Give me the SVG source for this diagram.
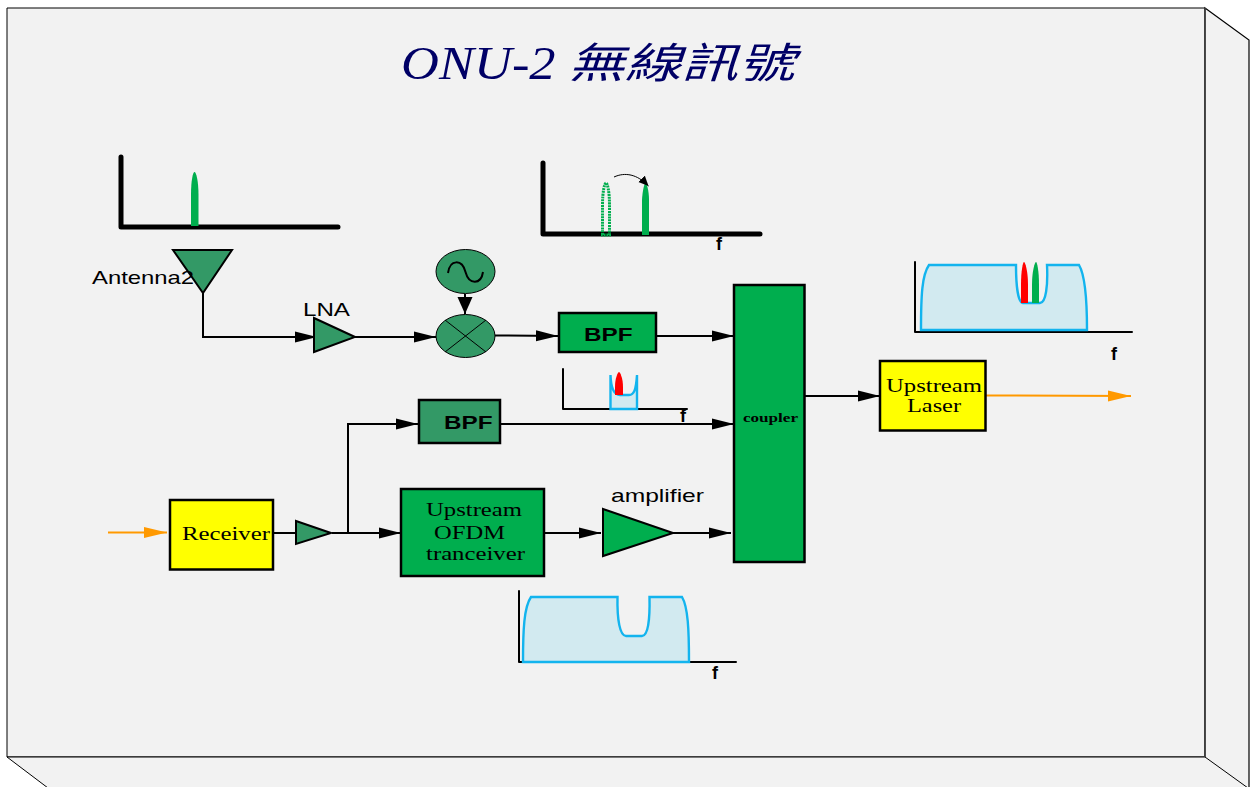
<svg xmlns="http://www.w3.org/2000/svg" width="1256" height="787" viewBox="0 0 1256 787">
<style>
.s{font-family:"Liberation Serif","Noto Sans CJK TC",serif;fill:#000}
.a{font-family:"Liberation Sans",Arial,sans-serif;fill:#000}
.b{font-family:"Liberation Sans",Arial,sans-serif;font-weight:700;fill:#000}
.c{fill:none;stroke:#000;stroke-width:2}
.o{fill:none;stroke:#ff9900;stroke-width:2}
.box{stroke:#000;stroke-width:2.5}
.g{fill:#00ae4e}
.d{fill:#339966}
.y{fill:#ffff00}
.ax{fill:none;stroke:#000;stroke-linejoin:round;stroke-linecap:round}
.sp{fill:#d2eaf0;stroke:#13b4ee;stroke-width:2.4}
.t{fill:#000066;font-style:italic}
</style>
<defs>
<marker id="ar" markerUnits="userSpaceOnUse" markerWidth="22" markerHeight="14" refX="22" refY="7" orient="auto"><path d="M0 1.500L22 7L0 12.500Z" fill="#000"/></marker>
<marker id="av" markerUnits="userSpaceOnUse" markerWidth="18" markerHeight="16" refX="17" refY="8" orient="auto"><path d="M0 0.500L17 8L0 15.500Z" fill="#000"/></marker>
<marker id="ao" markerUnits="userSpaceOnUse" markerWidth="24" markerHeight="14" refX="23" refY="7" orient="auto"><path d="M0 1.500L23 7L0 12.500Z" fill="#ff9900"/></marker>
<marker id="as" markerUnits="userSpaceOnUse" markerWidth="11" markerHeight="10" refX="10" refY="5" orient="auto"><path d="M0 0.500L10 5L0 9.500Z" fill="#000"/></marker>
</defs>
<rect width="1256" height="787" fill="#fff"/>
<g id="frame">
<path d="M7 8H1205V757H7Z" fill="#f2f2f2" stroke="#000" stroke-width="1"/>
<path d="M1205 8L1249 40V790H1205Z" fill="#f2f2f2" stroke="#000" stroke-width="1.2"/>
<path d="M7 757H1205L1248 788V790H49L48 788Z" fill="#f2f2f2" stroke="#000" stroke-width="1"/>
<path d="M1205 8V757" stroke="#444" stroke-width="1.5"/>
</g>
<g id="title">
<text transform="translate(401 79) scale(1.142 1)" class="s t" font-size="46">ONU-2</text>
<text transform="translate(568 78) scale(1.35 1)" class="s t" font-size="42">無線訊號</text>
</g>
<g id="connectors">
<path class="c" d="M203 293V337H317" marker-end="url(#ar)"/>
<path class="c" d="M355 337H436" marker-end="url(#ar)"/>
<path class="c" d="M465 294V314" marker-end="url(#av)"/>
<path class="c" d="M495 335.500L558 336" marker-end="url(#ar)"/>
<path class="c" d="M656 336H734" marker-end="url(#ar)"/>
<path class="c" d="M501 424H734" marker-end="url(#ar)"/>
<path class="c" d="M273 533H296"/>
<path class="c" d="M332 533H401" marker-end="url(#ar)"/>
<path class="c" d="M348 533V424H418" marker-end="url(#ar)"/>
<path class="c" d="M541 533H601" marker-end="url(#ar)"/>
<path class="c" d="M673 533H731" marker-end="url(#ar)"/>
<path class="c" d="M805 396H880" marker-end="url(#ar)"/>
<path class="o" d="M108 532.500H167" marker-end="url(#ao)"/>
<path class="o" d="M985 395.500L1131 396" marker-end="url(#ao)"/>
</g>
<g id="spectrum-1">
<path class="ax" stroke-width="5" d="M121 157V227H338"/>
<path class="g" d="M191 226V195C191 180 193 172 194.500 172C196 172 198.500 180 198.500 195V226Z"/>
</g>
<g id="spectrum-2">
<path class="ax" stroke-width="5" d="M543 163V234H760"/>
<path d="M602.500 235V205C602.500 192 604.500 183 606 183C607.500 183 609.500 192 609.500 205V235Z" fill="none" stroke="#00ae4e" stroke-width="3" stroke-dasharray="2 0.800"/>
<path class="g" d="M642 235V200C642.500 190 644.500 183 645.500 183C646.500 183 649 190 649 200V235Z"/>
<path d="M614 177C625 172 637 174 648.500 186" fill="none" stroke="#000" stroke-width="1" marker-end="url(#as)"/>
<text class="b" x="716" y="250" font-size="18">f</text>
</g>
<g id="spectrum-3">
<path class="ax" stroke-width="2" d="M915 262V332H1132"/>
<path class="sp" d="M921 330C921 295 922 275 929 265H1016C1016 285 1018 303 1023 303H1040C1046 303 1048 285 1047 265H1079C1085 275 1087 295 1087 330Z"/>
<path fill="#ff0000" d="M1021 303V285C1021 270 1023 262 1024 262C1025 262 1028 270 1028 285V303Z"/>
<path class="g" d="M1032 303V285C1032 270 1035 262 1036 262C1037 262 1039 270 1039 285V303Z"/>
<text class="b" x="1111" y="360" font-size="18">f</text>
</g>
<g id="spectrum-4">
<path class="ax" stroke-width="2" d="M563 369V409H687"/>
<path class="sp" d="M610.500 409V375C611 390 615 395 620 395H629C634 395 636 390 637 375V409Z"/>
<path fill="#ff0000" d="M615 395V387C615 378 618 372 619 372C620 372 623 378 623 387V395Z"/>
<text class="b" x="680" y="422" font-size="18">f</text>
</g>
<g id="spectrum-5">
<path class="ax" stroke-width="2" d="M519 591V662H736"/>
<path class="sp" d="M523 662C523 630 524 607 531 597H617.500C617 620 620 636 626 636H642C648 636 650 620 649.500 597H682C688 607 689 630 689 662Z"/>
<text class="b" x="712" y="679" font-size="18">f</text>
</g>
<g id="antenna">
<path class="d" stroke="#000" stroke-width="2" d="M173 250H232L203 293Z"/>
<text class="a" x="92" y="284" font-size="18.500" textLength="102" lengthAdjust="spacingAndGlyphs">Antenna2</text>
</g>
<g id="lna">
<path class="d" stroke="#000" stroke-width="2" d="M314 318L355 337L314 352Z"/>
<text class="a" x="303" y="316" font-size="18.500" textLength="47" lengthAdjust="spacingAndGlyphs">LNA</text>
</g>
<g id="oscillator">
<ellipse class="d" cx="465.500" cy="271.500" rx="29.500" ry="22" stroke="#000" stroke-width="1"/>
<path d="M448 273C450 259 462 259 465.500 272C469 285 481 285 483 272" fill="none" stroke="#000" stroke-width="2"/>
</g>
<g id="mixer">
<ellipse class="d" cx="465.500" cy="336" rx="29.500" ry="21.500" stroke="#000" stroke-width="1"/>
<path d="M445 320L486 352M486 320L445 352" stroke="#000" stroke-width="1"/>
</g>
<g id="bpf-1">
<rect class="g box" x="559" y="313" width="97" height="39"/>
<text class="b" x="584" y="341" font-size="17.500" textLength="48.500" lengthAdjust="spacingAndGlyphs">BPF</text>
</g>
<g id="bpf-2">
<rect class="d box" x="419" y="400" width="81" height="43"/>
<text class="b" x="444" y="429" font-size="17.500" textLength="48.500" lengthAdjust="spacingAndGlyphs">BPF</text>
</g>
<g id="receiver">
<rect class="y box" x="170" y="500" width="103" height="69.500"/>
<text class="s" x="182" y="540" font-size="19" textLength="88" lengthAdjust="spacingAndGlyphs">Receiver</text>
</g>
<g id="pre-amp">
<path class="d" stroke="#000" stroke-width="2" d="M296 521L331 533L296 544Z"/>
</g>
<g id="ofdm">
<rect class="g box" x="401" y="489" width="143" height="87"/>
<text class="s" x="426" y="516" font-size="19.500" textLength="96" lengthAdjust="spacingAndGlyphs">Upstream</text>
<text class="s" x="434" y="539" font-size="19.500" textLength="71" lengthAdjust="spacingAndGlyphs">OFDM</text>
<text class="s" x="426" y="560" font-size="19.500" textLength="99" lengthAdjust="spacingAndGlyphs">tranceiver</text>
</g>
<g id="amplifier">
<path class="g" stroke="#000" stroke-width="2" d="M603 509L673 533L603 556Z"/>
<text class="a" x="611" y="502" font-size="18.500" textLength="93" lengthAdjust="spacingAndGlyphs">amplifier</text>
</g>
<g id="coupler">
<rect class="g box" x="734" y="285" width="70.500" height="277"/>
<text class="s" x="743" y="422" font-size="11.500" font-weight="700" textLength="55" lengthAdjust="spacingAndGlyphs">coupler</text>
</g>
<g id="laser">
<rect class="y box" x="880" y="361" width="105.500" height="69.500"/>
<text class="s" x="886" y="392" font-size="19.500" textLength="96" lengthAdjust="spacingAndGlyphs">Upstream</text>
<text class="s" x="907" y="412" font-size="19.500" textLength="54" lengthAdjust="spacingAndGlyphs">Laser</text>
</g>
</svg>
